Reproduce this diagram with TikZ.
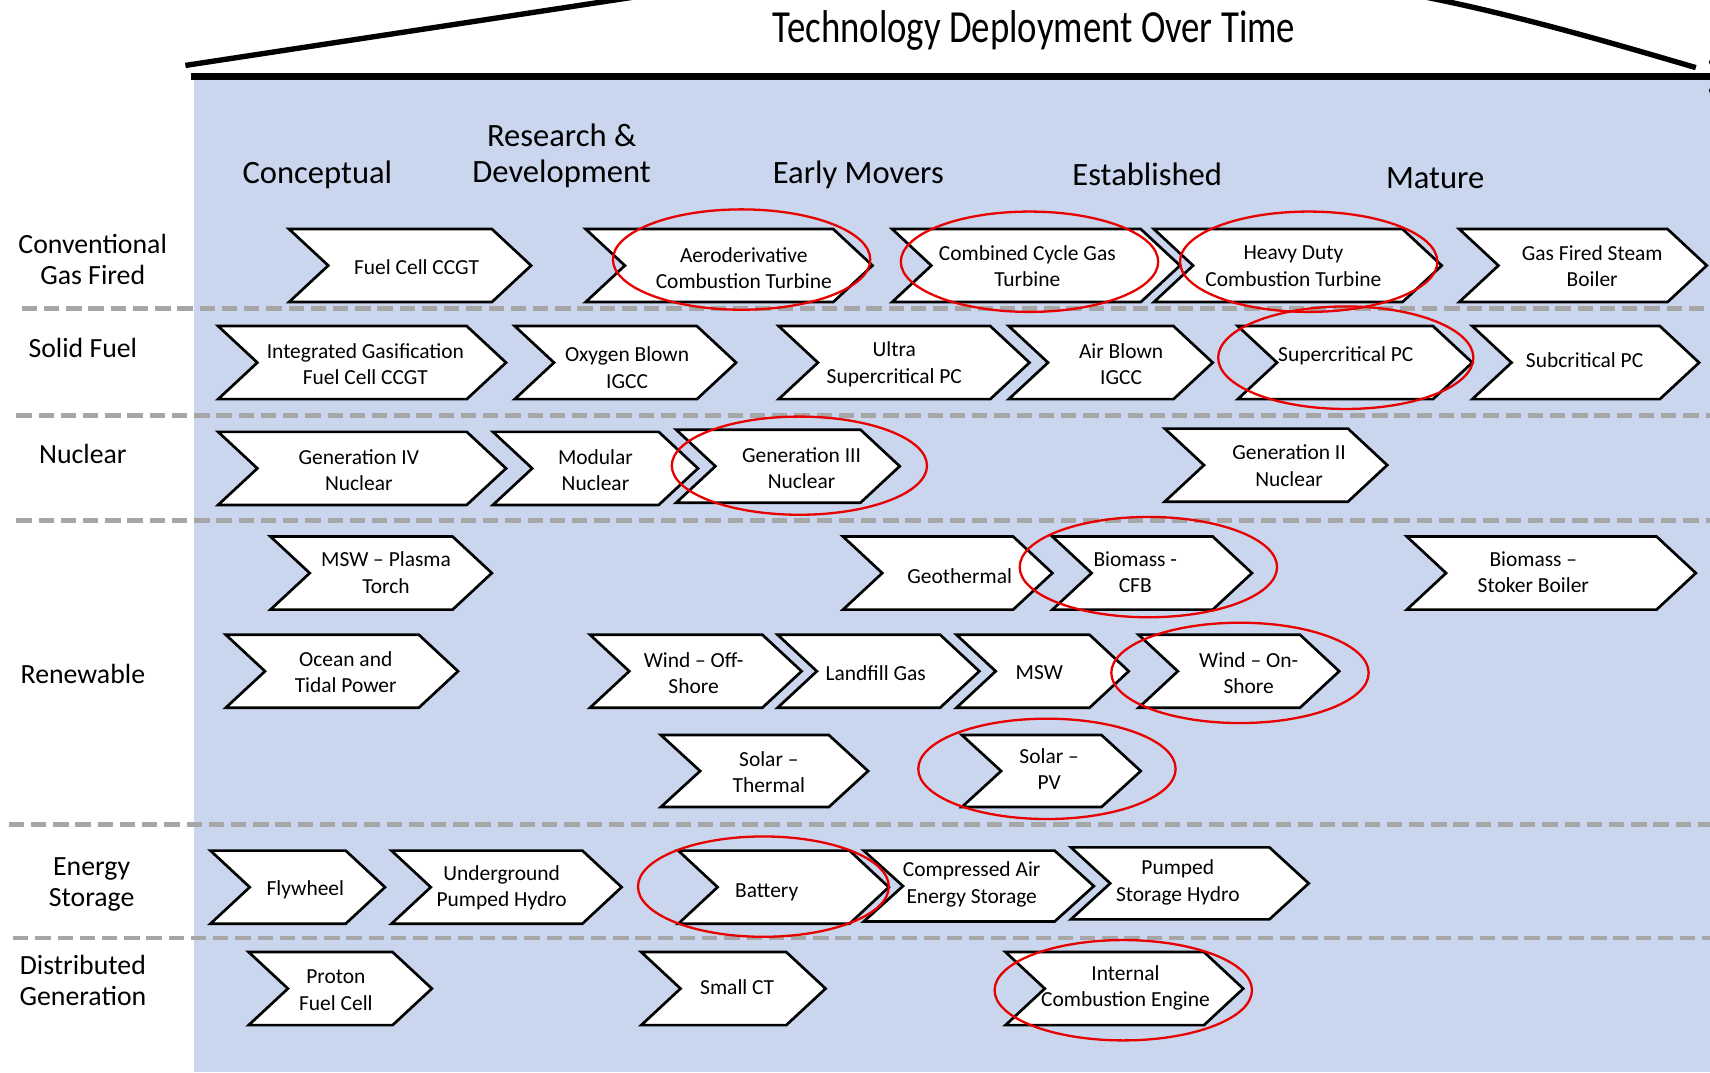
\documentclass[tikz,border=0pt]{standalone}
\usepackage{fontspec}
\setmainfont{Carlito}
\usepackage{graphicx}
\definecolor{bgblue}{RGB}{201,214,238}
\definecolor{dashgray}{RGB}{166,166,166}
\definecolor{ringred}{RGB}{232,0,0}
\tikzset{
  chevbox/.style={draw=black, fill=white, line width=1.4pt, line join=miter},
  chevtext/.style={align=center, inner sep=0pt, font=\fontsize{11.2}{13.7}\selectfont},
  rowlabel/.style={align=center, inner sep=0pt, font=\fontsize{14.5}{16.5}\selectfont},
  colhead/.style={align=center, inner sep=0pt, font=\fontsize{17}{19}\selectfont},
  sepline/.style={draw=dashgray, line width=2.4pt, dash pattern=on 8pt off 3.6pt},
  ring/.style={draw=ringred, line width=1.2pt},
  roof/.style={draw=black, line width=2.8pt}
}
\newcommand{\chev}[8]{%
  \draw[chevbox] (#2,#4) -- ({#3-36},#4) -- (#3,{(#4+#5)/2}) -- ({#3-36},#5) -- (#2,#5) -- ({#2+36},{(#4+#5)/2}) -- cycle;
  \node[chevtext] (#1) at (#6,#7) {#8};}
\begin{document}
\begin{tikzpicture}[x=0.02cm,y=-0.02cm]
\useasboundingbox (0,0) rectangle (1568,983);
% background
\fill[bgblue] (178,70) rectangle (1568,983);
% roof
\draw[roof] (170,60) -- (590,-4);
\draw[roof] (1295,-5) .. controls (1385,12) and (1480,40) .. (1555,62);
\draw[black, line width=3.4pt] (175,70) -- (1568,70);
\fill[black] (1571,57) circle [radius=4];
\fill[black] (1571,83) circle [radius=4];
\node[inner sep=0pt] (title) at (948,28) {\scalebox{0.8}[1]{\fontsize{24}{28}\selectfont Technology Deployment Over Time}};
% column headers
\node[colhead] (h1) at (291,160) {Conceptual};
\node[colhead] (h2) at (515,143) {Research \&\\Development};
\node[colhead] (h3) at (787,160) {Early Movers};
\node[colhead] (h4) at (1052,160) {Established};
\node[colhead] (h5) at (1316,163) {Mature};
% row labels
\node[rowlabel] (r1) at (85,238) {Conventional\\Gas Fired};
\node[rowlabel] (r2) at (76,319) {Solid Fuel};
\node[rowlabel] (r3) at (76,416) {Nuclear};
\node[rowlabel] (r4) at (76,618) {Renewable};
\node[rowlabel] (r5) at (84,811) {Energy\\Storage};
\node[rowlabel] (r6) at (76,899) {Distributed\\Generation};
% separators
\draw[sepline] (20,283) -- (1568,283);
\draw[sepline] (15,381) -- (1568,381);
\draw[sepline] (15,477) -- (1568,477);
\draw[sepline] (8,756) -- (1568,756);
\draw[sepline] (12,860) -- (1568,860);
% row 1
\chev{fcccgt}{265}{487}{210}{277}{382}{245}{Fuel Cell CCGT}
\chev{aero}{537}{800}{210}{277}{682}{246}{Aeroderivative\\Combustion Turbine}
\chev{ccgt}{818}{1082}{210}{277}{942}{244}{Combined Cycle Gas\\Turbine}
\chev{hdct}{1058}{1322}{210}{277}{1186}{244}{Heavy Duty\\Combustion Turbine}
\chev{gfsb}{1338}{1565}{210}{277}{1460}{244}{Gas Fired Steam\\Boiler}
% row 2
\chev{igfc}{200}{464}{299}{366}{335}{334}{Integrated Gasification\\Fuel Cell CCGT}
\chev{oxy}{472}{675}{299}{366}{575}{337}{Oxygen Blown\\IGCC}
\chev{usc}{714}{944}{299}{366}{820}{334}{Ultra\\Supercritical PC}
\chev{air}{925}{1112}{299}{366}{1028}{334}{Air Blown\\IGCC}
\chev{sc}{1135}{1350}{299}{366}{1234}{326}{Supercritical PC}
\chev{sub}{1350}{1558}{299}{366}{1453}{330}{Subcritical PC}
% row 3
\chev{gen4}{200}{464}{396}{463}{329}{431}{Generation IV\\Nuclear}
\chev{mod}{452}{640}{396}{463}{546}{431}{Modular\\Nuclear}
\chev{gen3}{620}{825}{394}{461}{735}{429}{Generation III\\Nuclear}
\chev{gen2}{1068}{1272}{393}{460}{1182}{427}{Generation II\\Nuclear}
% row 4
\chev{mswp}{248}{451}{492}{559}{354}{525}{MSW -- Plasma\\Torch}
\chev{geo}{773}{965}{492}{559}{880}{528}{Geothermal}
\chev{cfb}{965}{1148}{492}{559}{1041}{525}{Biomass -\\CFB}
\chev{stoker}{1290}{1555}{492}{559}{1406}{525}{Biomass --\\Stoker Boiler}
% row 5
\chev{ocean}{207}{420}{582}{649}{317}{616}{Ocean and\\Tidal Power}
\chev{windoff}{541}{735}{582}{649}{636}{617}{Wind -- Off-\\Shore}
\chev{landfill}{713}{898}{582}{649}{803}{617}{Landfill Gas}
\chev{msw}{877}{1035}{582}{649}{953}{617}{MSW}
\chev{windon}{1044}{1228}{582}{649}{1145}{617}{Wind -- On-\\Shore}
% row 6
\chev{solth}{606}{796}{674}{740}{705}{708}{Solar --\\Thermal}
\chev{solpv}{882}{1046}{674}{740}{962}{705}{Solar --\\PV}
% row 7
\chev{fly}{193}{353}{780}{847}{280}{816}{Flywheel}
\chev{uph}{359}{570}{780}{847}{460}{814}{Underground\\Pumped Hydro}
\chev{bat}{622}{815}{780}{847}{703}{818}{Battery}
\chev{caes}{792}{1003}{780}{845}{891}{811}{Compressed Air\\Energy Storage}
\chev{psh}{982}{1200}{777}{843}{1080}{809}{Pumped\\Storage Hydro}
% row 8
\chev{proton}{228}{396}{873}{940}{308}{908}{Proton\\Fuel Cell}
\chev{smallct}{588}{757}{873}{940}{676}{905}{Small CT}
\chev{ice}{922}{1140}{873}{940}{1032}{906}{Internal\\Combustion Engine}
% rings
\draw[ring] (680,238) ellipse [x radius=118, y radius=46];
\draw[ring] (944,240) ellipse [x radius=118, y radius=46];
\draw[ring] (1200,240) ellipse [x radius=118, y radius=46];
\draw[ring] (1234,328) ellipse [x radius=117, y radius=47];
\draw[ring] (733,427) ellipse [x radius=117, y radius=45];
\draw[ring] (1053,520) ellipse [x radius=118, y radius=46];
\draw[ring] (1137,617) ellipse [x radius=118, y radius=46];
\draw[ring] (960,705) ellipse [x radius=118, y radius=46];
\draw[ring] (700,813) ellipse [x radius=115, y radius=46];
\draw[ring] (1030,908) ellipse [x radius=118, y radius=46];
\end{tikzpicture}
\end{document}
